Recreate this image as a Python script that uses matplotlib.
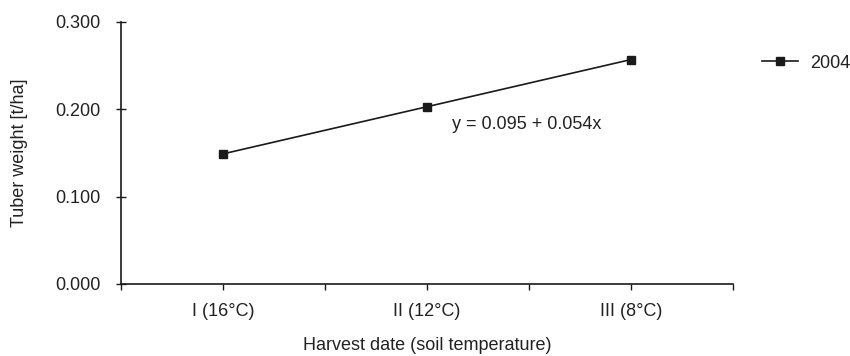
import matplotlib
matplotlib.use("Agg")
import matplotlib.pyplot as plt
import numpy as np

plt.rcParams['font.family'] = ['Liberation Sans', 'DejaVu Sans']

categories = ["I (16°C)", "II (12°C)", "III (8°C)"]
series_2004 = [0.149, 0.203, 0.257]
yticks = [0.0, 0.1, 0.2, 0.3]
ytick_labels = ["0.000", "0.100", "0.200", "0.300"]
equation = "y = 0.095 + 0.054x"

FS = 13
TC = '#222222'

fig = plt.figure(figsize=(8.5, 3.56), dpi=100)
ax = fig.add_axes([121/850, 1-284/356, (733-121)/850, (284-22)/356])

xpos = np.arange(len(categories)) + 0.5
line, = ax.plot(xpos, series_2004, color='#1a1a1a', lw=1.2, marker='s', ms=6,
                markerfacecolor='#1a1a1a', markeredgecolor='#1a1a1a', label='2004')

ax.set_xlim(0, 3)
ax.set_ylim(0, 0.3)
ax.set_yticks(yticks)
ax.set_yticklabels(ytick_labels)
ax.set_xticks(xpos)
ax.set_xticklabels(categories)
ax.set_xticks(np.arange(0, 3.01, 1.0), minor=True)
ax.tick_params(axis='x', which='both', direction='out', length=4, width=1, color='#1a1a1a')
ax.tick_params(axis='x', which='major', pad=10, labelsize=FS, labelcolor=TC)
ax.tick_params(axis='y', direction='inout', length=7, width=1, pad=11, labelsize=FS,
               color='#1a1a1a', labelcolor=TC)

for s in ['top', 'right']:
    ax.spines[s].set_visible(False)
for s in ['left', 'bottom']:
    ax.spines[s].set_linewidth(1.2)
    ax.spines[s].set_color('#1a1a1a')

ax.set_xlabel("Harvest date (soil temperature)", fontsize=FS, color=TC, labelpad=12)
ax.set_ylabel("Tuber weight [t/ha]", fontsize=FS, color=TC, labelpad=20)

ax.text(0.663, 0.607, equation, transform=ax.transAxes, fontsize=FS,
        color=TC, ha='center', va='center')

fig.legend(handles=[line], labels=['2004'], loc='center left',
           bbox_to_anchor=(762/850, 1-63/356), frameon=False, fontsize=FS,
           handlelength=2.0, handletextpad=0.67, borderpad=0, borderaxespad=0,
           labelcolor=TC)

fig.savefig("out.png", dpi=100)
